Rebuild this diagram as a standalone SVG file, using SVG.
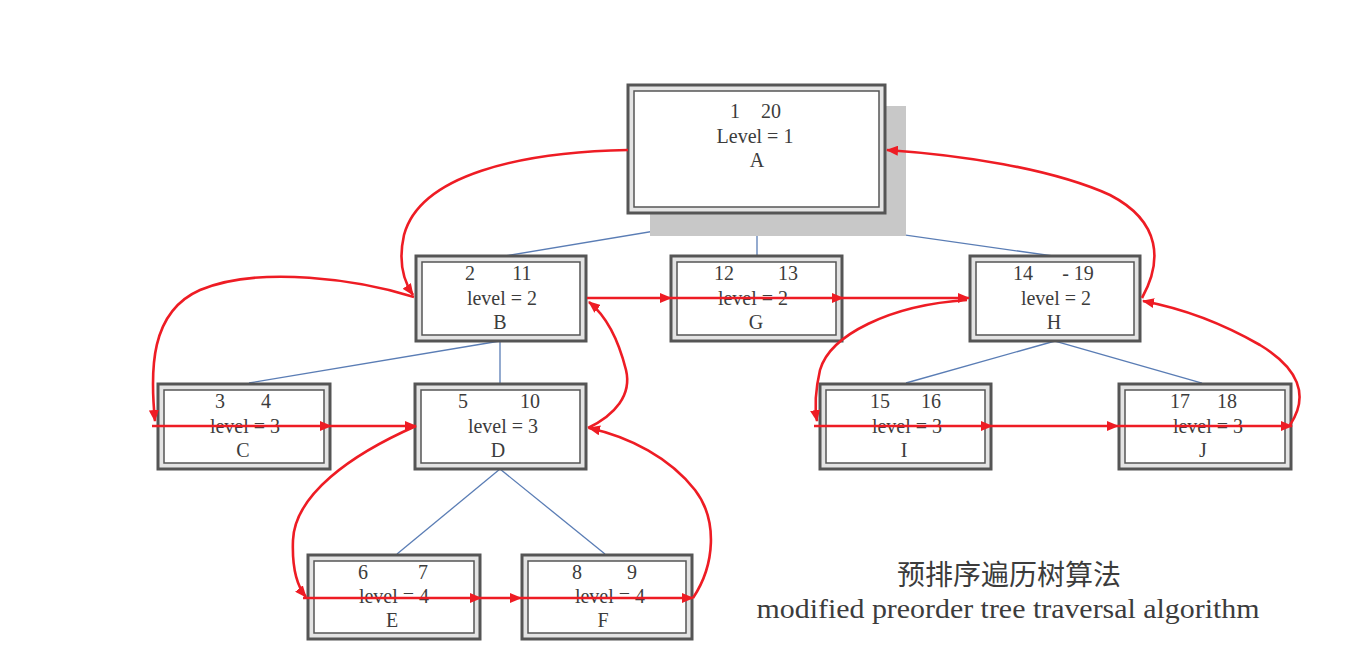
<svg xmlns="http://www.w3.org/2000/svg" width="1364" height="650" viewBox="0 0 1364 650">
<defs>
<style>
.o{fill:#e4e4e4;stroke:#555;stroke-width:3}
.i{fill:#fff;stroke:#555;stroke-width:1.5}
.t{font-family:"Liberation Serif","Times New Roman",serif;font-size:20px;fill:#3c3c3c;text-anchor:middle}
.tree{stroke:#5a7db5;stroke-width:1.3;fill:none}
.red{stroke:#ee1c24;stroke-width:2.6;fill:none;marker-end:url(#ah)}
.cap{font-family:"Liberation Serif","Noto Sans CJK SC",serif;fill:#3c3c3c;text-anchor:middle}
</style>
<marker id="ah" markerWidth="12" markerHeight="10" refX="11" refY="5" orient="auto" markerUnits="userSpaceOnUse">
<path d="M0,0 L12,5 L0,10 z" fill="#ee1c24"/>
</marker>
</defs>
<rect width="1364" height="650" fill="#fff"/>

<g id="tree-lines">
<line class="tree" x1="757" y1="214" x2="505" y2="256"/>
<line class="tree" x1="757" y1="214" x2="757" y2="256"/>
<line class="tree" x1="757" y1="214" x2="1053" y2="256"/>
<line class="tree" x1="500" y1="341" x2="249" y2="383"/>
<line class="tree" x1="500" y1="341" x2="500" y2="383"/>
<line class="tree" x1="1055" y1="341" x2="906" y2="383"/>
<line class="tree" x1="1055" y1="341" x2="1202" y2="383"/>
<line class="tree" x1="500" y1="469" x2="397" y2="554"/>
<line class="tree" x1="500" y1="469" x2="605" y2="554"/>
</g>

<g id="A">
<rect x="650" y="106" width="256" height="130" fill="#c8c8c8"/>
<rect class="o" x="628" y="85" width="257" height="128"/>
<rect class="i" x="634" y="91" width="245" height="116"/>
<text class="t" x="735" y="118">1</text><text class="t" x="771" y="118">20</text>
<text class="t" x="755" y="143">Level = 1</text>
<text class="t" x="757" y="167">A</text>
</g>

<g id="B">
<rect class="o" x="416" y="256" width="170" height="85"/>
<rect class="i" x="422" y="262" width="158" height="73"/>
<text class="t" x="470" y="280">2</text><text class="t" x="522" y="280">11</text>
<text class="t" x="502" y="305">level = 2</text>
<text class="t" x="500" y="329">B</text>
</g>

<g id="G">
<rect class="o" x="671" y="256" width="171" height="85"/>
<rect class="i" x="677" y="262" width="159" height="73"/>
<text class="t" x="724" y="280">12</text><text class="t" x="788" y="280">13</text>
<text class="t" x="753" y="305">level = 2</text>
<text class="t" x="756" y="329">G</text>
</g>

<g id="H">
<rect class="o" x="970" y="256" width="170" height="85"/>
<rect class="i" x="976" y="262" width="158" height="73"/>
<text class="t" x="1023" y="280">14</text><text class="t" x="1078" y="280">- 19</text>
<text class="t" x="1056" y="305">level = 2</text>
<text class="t" x="1054" y="329">H</text>
</g>

<g id="C">
<rect class="o" x="158" y="384" width="172" height="85"/>
<rect class="i" x="164" y="390" width="160" height="73"/>
<text class="t" x="220" y="408">3</text><text class="t" x="266" y="408">4</text>
<text class="t" x="245" y="433">level = 3</text>
<text class="t" x="243" y="457">C</text>
</g>

<g id="D">
<rect class="o" x="415" y="384" width="171" height="85"/>
<rect class="i" x="421" y="390" width="159" height="73"/>
<text class="t" x="463" y="408">5</text><text class="t" x="530" y="408">10</text>
<text class="t" x="503" y="433">level = 3</text>
<text class="t" x="498" y="457">D</text>
</g>

<g id="I">
<rect class="o" x="820" y="384" width="171" height="85"/>
<rect class="i" x="826" y="390" width="159" height="73"/>
<text class="t" x="880" y="408">15</text><text class="t" x="931" y="408">16</text>
<text class="t" x="907" y="433">level = 3</text>
<text class="t" x="904" y="457">I</text>
</g>

<g id="J">
<rect class="o" x="1119" y="384" width="172" height="85"/>
<rect class="i" x="1125" y="390" width="160" height="73"/>
<text class="t" x="1180" y="408">17</text><text class="t" x="1227" y="408">18</text>
<text class="t" x="1208" y="433">level = 3</text>
<text class="t" x="1203" y="457">J</text>
</g>

<g id="E">
<rect class="o" x="308" y="555" width="172" height="84"/>
<rect class="i" x="314" y="561" width="160" height="72"/>
<text class="t" x="363" y="579">6</text><text class="t" x="423" y="579">7</text>
<text class="t" x="394" y="603">level = 4</text>
<text class="t" x="392" y="627">E</text>
</g>

<g id="F">
<rect class="o" x="522" y="555" width="170" height="84"/>
<rect class="i" x="528" y="561" width="158" height="72"/>
<text class="t" x="577" y="579">8</text><text class="t" x="632" y="579">9</text>
<text class="t" x="610" y="603">level = 4</text>
<text class="t" x="603" y="627">F</text>
</g>

<g id="traversal">
<path class="red" d="M628,150 C520,152 420,175 404,235 C398,262 404,282 413,295"/>
<path class="red" d="M414,297 C360,280 260,265 200,290 C150,312 150,370 155,421"/>
<path class="red" d="M152,426 L331,426"/>
<path class="red" d="M331,426 L416,426"/>
<path class="red" d="M416,426 C350,455 295,495 293,540 C292,565 296,585 306,597"/>
<path class="red" d="M303,598 L481,598"/>
<path class="red" d="M481,598 L521,598"/>
<path class="red" d="M521,598 L693,598"/>
<path class="red" d="M693,598 C715,565 718,520 695,490 C670,458 630,437 589,428"/>
<path class="red" d="M588,428 C615,415 632,395 626,370 C618,338 605,315 589,302"/>
<path class="red" d="M587,298 L671,298"/>
<path class="red" d="M671,298 L843,298"/>
<path class="red" d="M843,298 L969,298"/>
<path class="red" d="M967,300 C890,305 830,335 820,370 C815,392 815,410 817,421"/>
<path class="red" d="M814,426 L992,426"/>
<path class="red" d="M992,426 L1118,426"/>
<path class="red" d="M1118,426 L1292,426"/>
<path class="red" d="M1290,425 C1310,395 1298,368 1260,345 C1220,322 1180,308 1143,301"/>
<path class="red" d="M1142,298 C1162,262 1162,222 1110,195 C1050,168 960,155 887,150"/>
</g>

<g id="caption">
<text class="cap" x="1009" y="585" font-size="28" font-family="'Noto Sans CJK SC',sans-serif">预排序遍历树算法</text>
<text class="cap" x="1008" y="618" font-size="27" textLength="503" lengthAdjust="spacingAndGlyphs">modified preorder tree traversal algorithm</text>
</g>
</svg>
